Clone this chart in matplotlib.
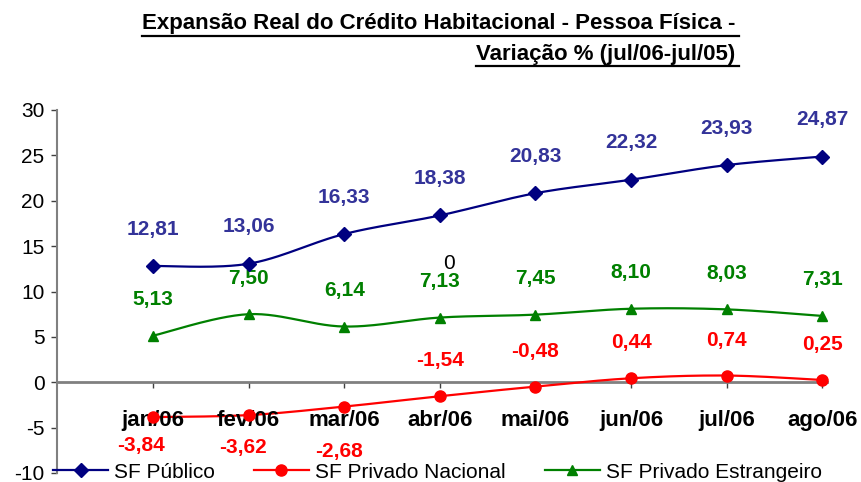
import numpy as np
import matplotlib
matplotlib.use("Agg")
import matplotlib.pyplot as plt
from matplotlib.lines import Line2D

plt.rcParams['font.family'] = ['Liberation Sans', 'DejaVu Sans']

# ---------------- data ----------------
categories = ["jan/06", "fev/06", "mar/06", "abr/06", "mai/06", "jun/06", "jul/06", "ago/06"]
sf_publico = [12.81, 13.06, 16.33, 18.38, 20.83, 22.32, 23.93, 24.87]
sf_priv_nac = [-3.84, -3.62, -2.68, -1.54, -0.48, 0.44, 0.74, 0.25]
sf_priv_est = [5.13, 7.50, 6.14, 7.13, 7.45, 8.10, 8.03, 7.31]
series_names = ["SF Público", "SF Privado Nacional", "SF Privado Estrangeiro"]
yticks = [-10, -5, 0, 5, 10, 15, 20, 25, 30]
title1 = "Expansão Real do Crédito Habitacional - Pessoa Física -"
title2 = "Variação % (jul/06-jul/05)"

# label offsets (points)
nac_label_dy = [-20.7, -23.5, -32.5, 25.5, 25.5, 25.5, 25.5, 25.5]
nac_label_dx = [-9, -4, -4, 0, 0, 0, 0, 0]

def fmt(v):
    return f"{v:.2f}".replace(".", ",")

def smooth(x, y, n=30):
    x = np.asarray(x, float); y = np.asarray(y, float)
    P = np.column_stack([x, y])
    out = []
    m = len(P)
    for i in range(m - 1):
        p0 = P[i]; p1 = P[i + 1]
        pm = P[i - 1] if i > 0 else P[i]
        pp = P[i + 2] if i + 2 < m else P[i + 1]
        c1 = p0 + (p1 - pm) / 6.0
        c2 = p1 - (pp - p0) / 6.0
        t = np.linspace(0, 1, n)[:, None]
        seg = (1 - t) ** 3 * p0 + 3 * (1 - t) ** 2 * t * c1 + 3 * (1 - t) * t ** 2 * c2 + t ** 3 * p1
        if i > 0:
            seg = seg[1:]
        out.append(seg)
    out = np.vstack(out)
    return out[:, 0], out[:, 1]

W, H = 861, 482
fig = plt.figure(figsize=(W / 100, H / 100), dpi=100)
x0, x1 = 57.4, 827
ytop, ybot = 110, 473
ax = fig.add_axes([x0 / W, (H - ybot) / H, (x1 - x0) / W, (ybot - ytop) / H])
ax.set_xlim(0, 8.05)
ax.set_ylim(-10, 30)

xpos = np.arange(1, len(categories) + 1)

navy = "#000080"
lblue = "#333399"
red = "#FF0000"
green = "#008000"
gray = "#808080"

specs = [
    (sf_publico, navy, "D", 7.5, lblue),
    (sf_priv_nac, red, "o", 8, red),
    (sf_priv_est, green, "^", 6.5, green),
]
handles = []
for (vals, col, mk, ms, lc), name in zip(specs, series_names):
    sx, sy = smooth(xpos, vals)
    ax.plot(sx, sy, color=col, lw=1.6, zorder=3, clip_on=False)
    ax.plot(xpos, vals, ls="none", marker=mk, ms=ms, color=col, zorder=4, clip_on=False)
    handles.append(Line2D([], [], color=col, lw=1.6, marker=mk, ms=ms))

# data labels
for x, v in zip(xpos, sf_publico):
    ax.annotate(fmt(v), (x, v), xytext=(0, 26.6), textcoords="offset points",
                ha="center", va="center", fontsize=15, fontweight="bold", color=lblue, annotation_clip=False)
for x, v in zip(xpos, sf_priv_est):
    ax.annotate(fmt(v), (x, v), xytext=(0, 26.0), textcoords="offset points",
                ha="center", va="center", fontsize=15, fontweight="bold", color=green, annotation_clip=False)
for x, v, dy, dx in zip(xpos, sf_priv_nac, nac_label_dy, nac_label_dx):
    ax.annotate(fmt(v), (x, v), xytext=(dx, dy), textcoords="offset points",
                ha="center", va="center", fontsize=15, fontweight="bold", color=red, annotation_clip=False)

# stray "0" label
ax.text(4.10, 13.1, "0", ha="center", va="center", fontsize=15, color="black")

# axes styling
for s in ["top", "right"]:
    ax.spines[s].set_visible(False)
ax.spines["left"].set_color(gray)
ax.spines["left"].set_linewidth(1.5)
ax.spines["bottom"].set_position(("data", 0))
ax.spines["bottom"].set_color(gray)
ax.spines["bottom"].set_linewidth(2)
ax.set_yticks(yticks)
ax.set_yticklabels([str(t) for t in yticks])
ax.tick_params(axis="y", direction="out", length=4.3, width=1, color="#404040", pad=5, labelsize=15)
ax.set_xticks(xpos)
ax.set_xticklabels([])
ax.tick_params(axis="x", direction="out", length=4.3, width=1, color="#404040")

for x, c in zip(xpos, categories):
    ax.annotate(c, (x, 0), xytext=(0, -27.7), textcoords="offset points",
                ha="center", va="center", fontsize=16, fontweight="bold", color="black", annotation_clip=False)

# legend
leg = fig.legend(handles, series_names, loc="center left", bbox_to_anchor=(53 / W, (H - 472) / H),
                 ncol=3, frameon=False, fontsize=15, handlelength=2.65, handletextpad=0.3,
                 columnspacing=1.85, borderpad=0, borderaxespad=0, numpoints=1)

# title, underlined
fig.canvas.draw()
r = fig.canvas.get_renderer()
t1 = fig.text(735 / W, (H - 29) / H, title1, ha="right", va="baseline", fontsize=12, fontweight="bold")
bb = t1.get_window_extent(r)
fs = 12 * 592 / bb.width
t1.set_fontsize(fs)
t2 = fig.text(735 / W, (H - 60) / H, title2, ha="right", va="baseline", fontsize=fs, fontweight="bold")
fig.canvas.draw()
inv = fig.transFigure.inverted()
for t, uy in [(t1, 36), (t2, 66)]:
    b = t.get_window_extent(r)
    (fx0, _), (fx1, _) = inv.transform([(b.x0, 0), (b.x1 + 4, 0)])
    fig.add_artist(Line2D([fx0, fx1], [(H - uy) / H] * 2, color="black", lw=1.6, transform=fig.transFigure))

fig.savefig("out.png", dpi=100)
